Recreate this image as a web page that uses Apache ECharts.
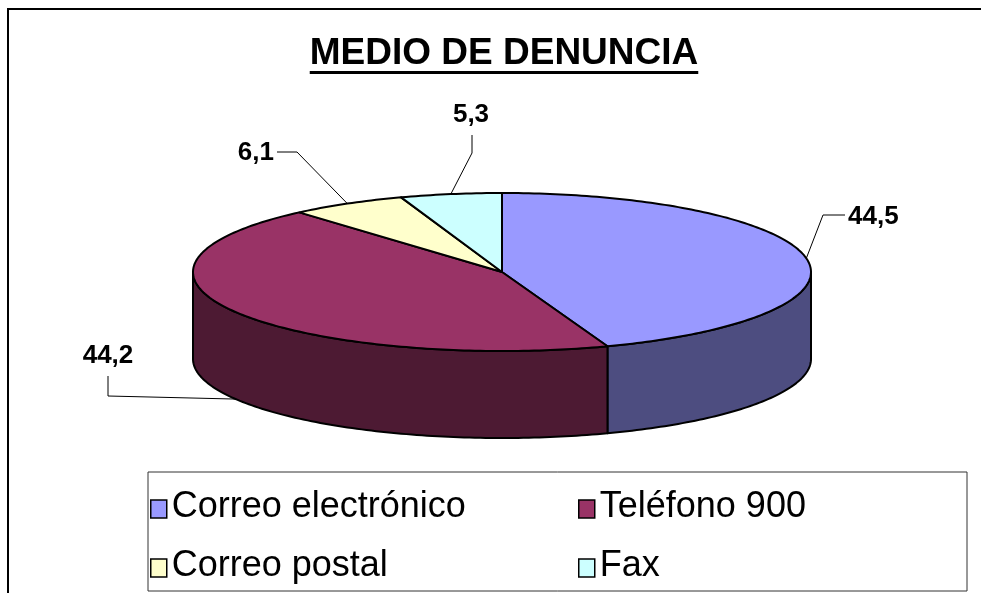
<!DOCTYPE html>
<html>
<head>
<meta charset="utf-8">
<script src="https://cdn.jsdelivr.net/npm/echarts@6/dist/echarts.min.js"></script>
<style>
  html, body { margin: 0; padding: 0; background: #fff; }
  #chart { width: 981px; height: 593px; }
</style>
</head>
<body>
<div id="chart"></div>
<script>
// ── data ──
const titleText = 'MEDIO DE DENUNCIA';
const categories = ['Correo electrónico', 'Teléfono 900', 'Correo postal', 'Fax'];
const values = [44.5, 44.2, 6.1, 5.3];
const topColors = ['#9999FF', '#993366', '#FFFFCC', '#CCFFFF'];
const sideColors = ['#4D4D80', '#4D1A33', '#80806A', '#6A8080'];

// ── layout (px) ──
const FONT = '"Liberation Sans", Arial, sans-serif';
const PIE = { cx: 502, cy: 272, rx: 309, ry: 79, depth: 87 };
// leader lines were placed by hand in the original, so keep them by hand
const LABELS = [
  { knee: [823, 215], end: [845, 215], text: [848, 217], align: 'left' },
  { knee: [108, 396], end: [108, 376], text: [108, 356], align: 'center', bottom: true },
  { knee: [297, 152], end: [277, 152], text: [274, 153], align: 'right' },
  { knee: [472, 153], end: [472, 135], text: [471, 115], align: 'center' }
];
// legend slots: [left, top] of each legend box, in category order
const LEGEND_POS = [[150, 489], [578, 489], [150, 548], [578, 548]];

const total = values.reduce((a, b) => a + b, 0);
const fmt = v => String(v).replace('.', ',');

function arc(s, e, dy) {
  const pts = [];
  const n = Math.max(2, Math.ceil((e - s) / (Math.PI / 180)));
  for (let k = 0; k <= n; k++) {
    const a = s + (e - s) * k / n;
    pts.push([PIE.cx + PIE.rx * Math.sin(a), PIE.cy - PIE.ry * Math.cos(a) + dy]);
  }
  return pts;
}

function renderSlice(i) {
  return function (params, api) {
    const before = values.slice(0, i).reduce((a, b) => a + b, 0);
    const a0 = before / total * Math.PI * 2;
    const a1 = (before + api.value(0)) / total * Math.PI * 2;
    const children = [];

    // visible side wall (front half only)
    const s = Math.max(a0, Math.PI / 2), e = Math.min(a1, Math.PI * 1.5);
    if (s < e) {
      children.push({
        type: 'polygon',
        shape: { points: arc(s, e, 0).concat(arc(s, e, PIE.depth).reverse()) },
        style: { fill: sideColors[i], stroke: '#000', lineWidth: 2, lineJoin: 'round' }
      });
    }
    // top face
    children.push({
      type: 'polygon',
      shape: { points: [[PIE.cx, PIE.cy]].concat(arc(a0, a1, 0)) },
      style: { fill: topColors[i], stroke: '#000', lineWidth: 2, lineJoin: 'round' }
    });

    // leader line + value
    const lb = LABELS[i];
    const mid = (a0 + a1) / 2;
    const anchor = [PIE.cx + PIE.rx * Math.sin(mid), PIE.cy - PIE.ry * Math.cos(mid) + (lb.bottom ? PIE.depth : 0)];
    children.push({
      type: 'polyline',
      shape: { points: [anchor, lb.knee, lb.end] },
      style: { stroke: '#000', lineWidth: 1, fill: null }
    });
    children.push({
      type: 'text',
      style: {
        x: lb.text[0], y: lb.text[1], text: fmt(api.value(0)),
        font: 'bold 26px ' + FONT, fill: '#000',
        align: lb.align, verticalAlign: 'middle'
      }
    });
    return { type: 'group', children: children };
  };
}

// underline needs the title width
const mctx = document.createElement('canvas').getContext('2d');
mctx.font = 'bold 37px ' + FONT;
const titleW = mctx.measureText(titleText).width;
const titleX = 504;

const chart = echarts.init(document.getElementById('chart'));
chart.setOption({
  animation: false,
  backgroundColor: '#fff',
  graphic: [
    { type: 'rect', z: -1, shape: { x: 8, y: 9, width: 1000, height: 600 }, style: { fill: 'none', stroke: '#000', lineWidth: 2 } },
    { type: 'rect', shape: { x: 148, y: 472, width: 819, height: 119 }, style: { fill: 'none', stroke: '#333', lineWidth: 1 } },
    { type: 'text', x: titleX, y: 54, style: { text: titleText, font: 'bold 37px ' + FONT, fill: '#000', align: 'center', verticalAlign: 'middle' } },
    { type: 'rect', shape: { x: titleX - titleW / 2, y: 71, width: titleW, height: 3 }, style: { fill: '#000' } }
  ],
  // one legend per slot keeps the 2x2 columns aligned
  legend: categories.map((name, i) => ({
    data: [name],
    left: LEGEND_POS[i][0],
    top: LEGEND_POS[i][1],
    padding: 0,
    itemWidth: 16,
    itemHeight: 18,
    icon: 'rect',
    selectedMode: false,
    itemStyle: { borderColor: '#000', borderWidth: 1.5 },
    formatter: n => '{t|' + n + '}',
    textStyle: {
      rich: {
        // lift the words a little against the marker, as in the original
        t: { fontFamily: FONT, fontSize: 36, color: '#000', lineHeight: 18, padding: [0, 0, 4, 0] }
      }
    }
  })),
  series: categories.map((name, i) => ({
    type: 'custom',
    name: name,
    coordinateSystem: 'none',
    itemStyle: { color: topColors[i] },
    data: [[values[i]]],
    renderItem: renderSlice(i)
  }))
});
</script>
</body>
</html>
